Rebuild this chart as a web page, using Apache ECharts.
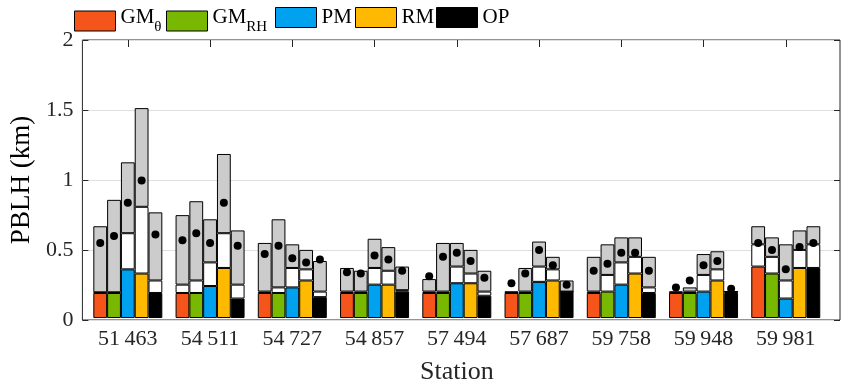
<!DOCTYPE html>
<html>
<head>
<meta charset="utf-8">
<script src="https://cdn.jsdelivr.net/npm/echarts@6/dist/echarts.min.js"></script>
<style>
  html, body { margin: 0; padding: 0; background: #fff; }
  #main { width: 848px; height: 390px; }
</style>
</head>
<body>
<div id="main"></div>
<script>
// stations and models
const stations = ['51\u2009463', '54\u2009511', '54\u2009727', '54\u2009857', '57\u2009494',
                  '57\u2009687', '59\u2009758', '59\u2009948', '59\u2009981'];
const models = ['GMθ', 'GMRH', 'PM', 'RM', 'OP'];
const colors = ['#f5541a', '#78b800', '#00a2f0', '#ffb900', '#000000'];

// coloured part (bottom), white part top, grey part top, dot (km)
const lowGMt  = [0.18, 0.18, 0.18, 0.18, 0.18, 0.18, 0.18, 0.18, 0.37];
const lowGMrh = [0.18, 0.18, 0.18, 0.18, 0.18, 0.18, 0.19, 0.18, 0.32];
const lowPM   = [0.35, 0.23, 0.22, 0.24, 0.25, 0.26, 0.24, 0.19, 0.14];
const lowRM   = [0.32, 0.36, 0.27, 0.24, 0.25, 0.27, 0.32, 0.27, 0.36];
const lowOP   = [0.18, 0.14, 0.15, 0.19, 0.16, 0.19, 0.18, 0.18, 0.36];

const midGMt  = [0.185, 0.24, 0.19, 0.19, 0.19, 0.185, 0.19, 0.185, 0.53];
const midGMrh = [0.185, 0.27, 0.22, 0.19, 0.19, 0.19, 0.31, 0.19, 0.44];
const midPM   = [0.61, 0.40, 0.36, 0.36, 0.37, 0.37, 0.40, 0.31, 0.27];
const midRM   = [0.80, 0.61, 0.35, 0.34, 0.32, 0.35, 0.44, 0.35, 0.49];
const midOP   = [0.27, 0.24, 0.19, 0.20, 0.19, 0.19, 0.22, 0.19, 0.53];

const highGMt  = [0.66, 0.74, 0.54, 0.36, 0.28, 0.19, 0.44, 0.19, 0.66];
const highGMrh = [0.85, 0.84, 0.71, 0.34, 0.54, 0.36, 0.53, 0.22, 0.58];
const highPM   = [1.12, 0.71, 0.53, 0.57, 0.54, 0.55, 0.58, 0.46, 0.53];
const highRM   = [1.51, 1.18, 0.49, 0.51, 0.49, 0.44, 0.58, 0.48, 0.63];
const highOP   = [0.76, 0.63, 0.41, 0.37, 0.34, 0.27, 0.44, 0.19, 0.66];

const meanGMt  = [0.54, 0.56, 0.46, 0.33, 0.30, 0.25, 0.34, 0.22, 0.54];
const meanGMrh = [0.59, 0.61, 0.52, 0.32, 0.44, 0.32, 0.39, 0.27, 0.49];
const meanPM   = [0.83, 0.54, 0.43, 0.45, 0.47, 0.49, 0.47, 0.38, 0.35];
const meanRM   = [0.99, 0.83, 0.40, 0.42, 0.41, 0.38, 0.47, 0.41, 0.51];
const meanOP   = [0.60, 0.52, 0.42, 0.34, 0.29, 0.24, 0.34, 0.21, 0.54];

const yTicks = [0, 0.5, 1, 1.5, 2];

const low = [lowGMt, lowGMrh, lowPM, lowRM, lowOP];
const mid = [midGMt, midGMrh, midPM, midRM, midOP];
const high = [highGMt, highGMrh, highPM, highRM, highOP];
const mean = [meanGMt, meanGMrh, meanPM, meanRM, meanOP];

const FONT = 'Liberation Serif';
const TXT = '#262626';
const BW = 13.8;

const diff = (a, b) => a.map((v, i) => +(v - b[i]).toFixed(4));

const series = [];
models.forEach((m, k) => {
    const base = { type: 'bar', stack: m, xAxisIndex: 1, yAxisIndex: 2, barWidth: BW, barGap: '0%' };
    series.push(Object.assign({}, base, {
        name: m, data: low[k],
        itemStyle: { color: colors[k], borderColor: '#000', borderWidth: 1 }
    }));
    series.push(Object.assign({}, base, {
        name: m + ' mid', data: diff(mid[k], low[k]),
        itemStyle: { color: '#ffffff', borderColor: '#000', borderWidth: 1 }
    }));
    series.push(Object.assign({}, base, {
        name: m + ' high', data: diff(high[k], mid[k]),
        itemStyle: { color: '#cccccc', borderColor: '#000', borderWidth: 1 }
    }));
});
models.forEach((m, k) => {
    series.push({
        type: 'scatter', name: m + ' mean', xAxisIndex: 1, yAxisIndex: 2,
        data: mean[k], symbol: 'circle', symbolSize: 8,
        symbolOffset: [(k - 2) * BW, 0], z: 5,
        itemStyle: { color: '#000', opacity: 1 }
    });
});

const legendLeft = [74, 166, 275, 355, 436];
const legendText = {
    'GMθ': '{m|GM}{s|θ}',
    'GMRH': '{m|GM}{s|RH}',
    'PM': 'PM', 'RM': 'RM', 'OP': 'OP'
};
const legends = models.map((m, k) => ({
    data: [m], left: legendLeft[k], top: 7, padding: 0,
    itemWidth: 41, itemHeight: 20, icon: 'rect', selectedMode: false,
    itemStyle: { borderColor: '#000', borderWidth: 1 },
    formatter: n => legendText[n],
    textStyle: {
        fontFamily: FONT, fontSize: 21, color: '#000',
        rich: {
            m: { fontFamily: FONT, fontSize: 21, color: '#000', verticalAlign: 'bottom', padding: [0, 0, 7, 0] },
            s: { fontFamily: FONT, fontSize: 15, color: '#000', verticalAlign: 'bottom' }
        }
    }
}));

const option = {
    animation: false,
    backgroundColor: '#fff',
    legend: legends,
    grid: [
        { left: 73, right: 8, top: 40, bottom: 70, show: true, borderColor: TXT, borderWidth: 1, backgroundColor: 'transparent' },
        { left: 86.7, right: 21.1, top: 40, bottom: 70 }
    ],
    xAxis: [
        { gridIndex: 0, type: 'value', min: 0, max: 1, show: false },
        {
            gridIndex: 1, type: 'category', data: stations,
            axisLine: { show: false }, axisTick: { show: false },
            axisLabel: { fontFamily: FONT, fontSize: 22, color: TXT, margin: 10 },
            name: 'Station', nameLocation: 'middle', nameGap: 41,
            nameTextStyle: { fontFamily: FONT, fontSize: 26, color: TXT }
        },
        {
            gridIndex: 1, type: 'category', data: stations, position: 'top',
            axisLine: { show: false }, axisLabel: { show: false },
            axisTick: { show: true, inside: true, alignWithLabel: true, length: 7, lineStyle: { color: TXT } }
        }
    ],
    yAxis: [
        {
            gridIndex: 0, type: 'value', min: 0, max: 2, interval: 0.5,
            axisLine: { show: false },
            axisTick: { show: true, inside: true, length: 6, lineStyle: { color: TXT } },
            axisLabel: { fontFamily: FONT, fontSize: 22, color: TXT, margin: 9,
                         formatter: v => yTicks.indexOf(v) >= 0 ? String(v) : '' },
            splitLine: { show: true, lineStyle: { color: '#dfdfdf', width: 1 } },
            name: 'PBLH (km)', nameLocation: 'middle', nameGap: 39,
            nameTextStyle: { fontFamily: FONT, fontSize: 27, color: '#000' }
        },
        {
            gridIndex: 0, type: 'value', min: 0, max: 2, interval: 0.5, position: 'right',
            axisLine: { show: false }, axisLabel: { show: false }, splitLine: { show: false },
            axisTick: { show: true, inside: true, length: 6, lineStyle: { color: TXT } }
        },
        { gridIndex: 1, type: 'value', min: 0, max: 2, show: false }
    ],
    series: series
};

const myChart = echarts.init(document.getElementById('main'), null, { renderer: 'canvas' });
myChart.setOption(option);
</script>
</body>
</html>
